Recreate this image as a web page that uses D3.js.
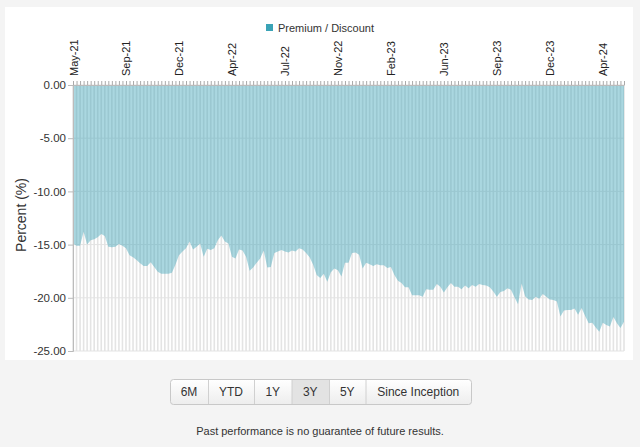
<!DOCTYPE html>
<html><head><meta charset="utf-8">
<script src="https://cdn.jsdelivr.net/npm/d3@7"></script>
<style>
html,body{margin:0;padding:0;background:#f4f4f4;}
svg{display:block;font-family:"Liberation Sans",Arial,sans-serif;}
</style></head>
<body><svg id="c" width="640" height="447"></svg>
<script>
// Weekly premium/discount values (percent), May-21 .. May-24
const values = [
-14.9,-15.1,-15.1,-13.8,-15.0,-14.6,-14.5,-14.3,-14.0,-14.2,
-15.2,-15.25,-15.2,-14.95,-15.1,-15.35,-16.0,-16.2,-16.45,-16.75,
-17.0,-17.0,-16.65,-17.1,-17.55,-17.75,-17.75,-17.75,-17.65,-16.9,
-16.0,-15.65,-15.35,-14.7,-15.45,-15.2,-14.9,-16.15,-15.4,-15.5,
-15.35,-14.6,-14.15,-14.7,-14.9,-16.15,-16.3,-15.45,-15.55,-16.15,
-17.45,-17.15,-16.7,-16.3,-15.55,-17.15,-17.1,-15.8,-15.65,-15.5,
-15.65,-15.75,-15.55,-15.65,-15.35,-15.45,-15.8,-16.2,-16.9,-17.85,
-18.15,-17.75,-18.5,-17.6,-17.25,-17.4,-18.0,-16.7,-16.7,-15.8,
-15.75,-15.95,-17.25,-16.7,-16.85,-17.0,-16.85,-16.95,-16.95,-17.2,
-17.1,-17.85,-18.4,-18.6,-19.0,-19.0,-19.75,-19.75,-19.75,-19.9,
-19.2,-19.25,-19.25,-18.7,-18.95,-19.5,-19.0,-18.6,-18.95,-18.95,
-19.2,-18.85,-19.1,-18.8,-18.95,-18.7,-18.8,-18.85,-19.0,-19.4,
-19.9,-19.45,-19.35,-19.1,-19.25,-19.95,-20.6,-18.65,-19.85,-20.15,
-20.2,-19.9,-20.1,-19.65,-19.9,-20.15,-20.2,-20.35,-21.75,-21.2,
-21.15,-21.15,-21.0,-21.6,-20.95,-21.7,-22.4,-22.35,-22.8,-23.2,
-22.35,-22.55,-22.7,-21.8,-22.4,-22.85,-22.25
];
// weekly categories (one per value)
const startDate = new Date(Date.UTC(2021, 4, 28));
const categories = values.map((v, i) => d3.utcDay.offset(startDate, 7 * i));
const xTickLabels = ["May-21","Sep-21","Dec-21","Apr-22","Jul-22","Nov-22","Feb-23","Jun-23","Sep-23","Dec-23","Apr-24"];
const xTickStep = 15;
const yTicks = [0, -5, -10, -15, -20, -25];
const seriesName = "Premium / Discount";
const buttons = ["6M","YTD","1Y","3Y","5Y","Since Inception"];
const activeButton = "3Y";

const svg = d3.select("#c");
const L = 73, R = 624, T = 85, B = 351;
const teal = "#3aa3b6";

// white panel
svg.append("rect").attr("x",5).attr("y",7).attr("width",628).attr("height",353).attr("fill","#fff");

const x = d3.scalePoint().domain(categories.map((d,i)=>i)).range([L, R]);
const y = d3.scaleLinear().domain([-25, 0]).range([B, T]);

// vertical grid lines (one per week)
svg.append("g").selectAll("line").data(categories).join("line")
  .attr("x1",(d,i)=>x(i)).attr("x2",(d,i)=>x(i))
  .attr("y1",T).attr("y2",B)
  .attr("stroke","#e4e4e4").attr("stroke-width",1.6);

// horizontal grid lines
svg.append("g").selectAll("line").data(yTicks).join("line")
  .attr("x1",L).attr("x2",R).attr("y1",d=>y(d)).attr("y2",d=>y(d))
  .attr("stroke","#e3e3e3").attr("stroke-width",1);

// area
const area = d3.area().x((d,i)=>x(i)).y0(y(0)).y1(d=>y(d)).curve(d3.curveLinear);
svg.append("path").datum(values).attr("d",area).attr("fill",teal).attr("fill-opacity",0.43);

// top axis
const xAxis = d3.axisTop(x).tickSize(4).tickSizeOuter(0)
  .tickFormat(i => (i % xTickStep === 0 && xTickLabels[i / xTickStep]) ? xTickLabels[i / xTickStep] : "");
const gx = svg.append("g").attr("transform",`translate(0,${T})`).call(xAxis);
gx.select(".domain").attr("stroke","#bbb");
gx.selectAll(".tick line").attr("stroke","#aaa");
gx.selectAll(".tick text")
  .attr("font-size","11px").attr("fill","#222")
  .attr("font-family","Liberation Sans, Arial, sans-serif")
  .attr("text-anchor","start").attr("dy",null)
  .attr("dominant-baseline","central")
  .attr("transform","translate(0,-9) rotate(-90)")
  .attr("x",0).attr("y",0);

// left axis
const fmt = d3.format(".2f");
const yAxis = d3.axisLeft(y).tickValues(yTicks).tickSize(5).tickFormat(d => fmt(d).replace("\u2212","-"));
const gy = svg.append("g").attr("transform",`translate(${L},0)`).call(yAxis);
gy.select(".domain").attr("stroke","#bbb");
gy.selectAll(".tick line").attr("stroke","#bbb");
gy.selectAll(".tick text").attr("font-size","11.5px").attr("fill","#333")
  .attr("font-family","Liberation Sans, Arial, sans-serif").attr("x",-7);

// y title
svg.append("text").attr("transform","translate(26,215) rotate(-90)")
  .attr("text-anchor","middle").attr("font-size","14px").attr("fill","#333")
  .text("Percent (%)");

// legend
svg.append("rect").attr("x",266).attr("y",24).attr("width",7).attr("height",7).attr("fill",teal);
svg.append("text").attr("x",278).attr("y",31.5).attr("font-size","11px").attr("fill","#333").text(seriesName);

// buttons
const bw = [38, 46, 37.5, 37.5, 36.5, 105.5];
let bx = 170;
const gb = svg.append("g");
const defs = svg.append("defs");
const grad = defs.append("linearGradient").attr("id","bg").attr("x1",0).attr("x2",0).attr("y1",0).attr("y2",1);
grad.append("stop").attr("offset","0").attr("stop-color","#ffffff");
grad.append("stop").attr("offset","1").attr("stop-color","#ededed");
gb.append("rect").attr("x",170.5).attr("y",379.5).attr("width",301).attr("height",25).attr("rx",3)
  .attr("fill","url(#bg)").attr("stroke","#c8c8c8");
buttons.forEach((b, i) => {
  const w = bw[i];
  if (b === activeButton) {
    gb.append("rect").attr("x",bx+0.5).attr("y",380).attr("width",w).attr("height",24).attr("fill","#e3e3e3");
  }
  if (i > 0) gb.append("line").attr("x1",bx+0.5).attr("x2",bx+0.5).attr("y1",380).attr("y2",404).attr("stroke","#d0d0d0");
  gb.append("text").attr("x",bx + w/2).attr("y",396).attr("text-anchor","middle")
    .attr("font-size","12px").attr("fill","#333").text(b);
  bx += w;
});

svg.append("text").attr("x",320).attr("y",435).attr("text-anchor","middle")
  .attr("font-size","11px").attr("fill","#333").text("Past performance is no guarantee of future results.");
</script></body></html>
